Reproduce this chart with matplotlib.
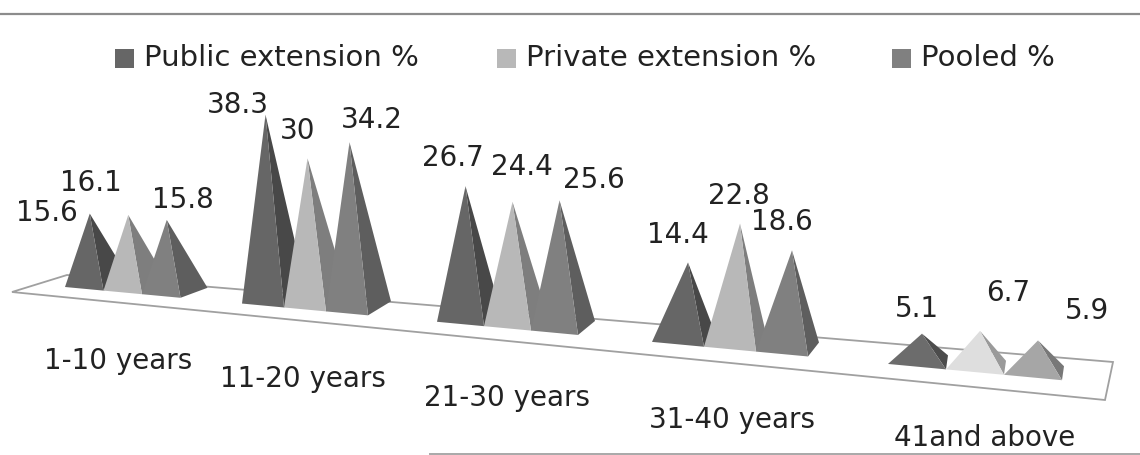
import matplotlib
matplotlib.use("Agg")
import matplotlib.pyplot as plt
from matplotlib.patches import Polygon, Rectangle

categories = ["1-10 years", "11-20 years", "21-30 years", "31-40 years", "41and above"]
public_ext = [15.6, 38.3, 26.7, 14.4, 5.1]
private_ext = [16.1, 30, 24.4, 22.8, 6.7]
pooled = [15.8, 34.2, 25.6, 18.6, 5.9]
series_names = ["Public extension %", "Private extension %", "Pooled %"]

# ----- fake 3D layout, in pixels; things get bigger towards the right
group_left = [65, 242, 437, 652, 888]
pyramid_w = [38.5, 42, 47, 52, 58]
depth_dx = [27, 23, 17, 11, 2]
depth_dy = [-10, -14, -14, -14, -14]
lean = [5.5, 2.5, 5, 10, 5]
unit_h = [4.5, 4.8, 4.9, 5.2, 5.1]

front_cols = ["#666666", "#b8b8b8", "#808080"]
side_cols = ["#484848", "#7e7e7e", "#5e5e5e"]
last_front_cols = ["#6c6c6c", "#dedede", "#a6a6a6"]
last_side_cols = ["#4c4c4c", "#9a9a9a", "#787878"]

# value label offsets from the pyramid tips
label_off = [
    [(-43, -1), (-37, -32), (16, -20)],
    [(-28, -10), (-10, -27), (22, -22)],
    [(-13, -28), (9, -35), (34, -20)],
    [(-10, -27), (-1, -28), (-10, -28)],
    [(-5, -25), (28, -38), (49, -29)],
]
cat_label_xy = [(118, 361), (303, 379), (507, 398), (732, 420), (985, 438)]


def floor_y(x):
    return 287 + 0.0935 * (x - 65)


def draw_pyramid(ax, g, s, value):
    x0 = group_left[g] + s * pyramid_w[g]
    x1 = x0 + pyramid_w[g]
    y0, y1 = floor_y(x0), floor_y(x1)
    back = (x1 + depth_dx[g], y1 + depth_dy[g])
    tip_x = (x0 + x1) / 2 + lean[g]
    tip_y = (y0 + y1) / 2 + depth_dy[g] / 2 - value * unit_h[g]
    front = last_front_cols if g == 4 else front_cols
    side = last_side_cols if g == 4 else side_cols
    ax.add_patch(Polygon([(x1, y1), back, (tip_x, tip_y)], closed=True, fc=side[s], ec="none", zorder=3))
    ax.add_patch(Polygon([(x0, y0), (x1, y1), (tip_x, tip_y)], closed=True, fc=front[s], ec="none", zorder=3))
    return tip_x, tip_y


fig = plt.figure(figsize=(11.4, 4.55), dpi=100)
ax = fig.add_axes([0, 0, 1, 1])
ax.set_xlim(0, 1140)
ax.set_ylim(455, 0)
ax.axis("off")

# ----- chart frame lines
ax.plot([0, 1140], [13.5, 13.5], color="#8c8c8c", lw=1.6, zorder=1)
ax.plot([430, 1140], [453.5, 453.5], color="#a8a8a8", lw=1.4, zorder=1)

# ----- floor
ax.add_patch(Polygon([(12, 292), (67, 275), (1113, 362), (1105, 400)], closed=True,
                     fc="white", ec="#a0a0a0", lw=1.3, zorder=2))

# ----- pyramids and value labels
all_series = [public_ext, private_ext, pooled]
for g in range(len(categories)):
    for s, vals in enumerate(all_series):
        tip_x, tip_y = draw_pyramid(ax, g, s, vals[g])
        dx, dy = label_off[g][s]
        ax.text(tip_x + dx, tip_y + dy, f"{vals[g]:g}", fontsize=20, color="#222222",
                ha="center", va="center", zorder=5)
    ax.text(*cat_label_xy[g], categories[g], fontsize=20, color="#222222",
            ha="center", va="center", zorder=5)

# ----- legend
legend_x = [115, 497, 892]
for x, name, col in zip(legend_x, series_names, front_cols):
    ax.add_patch(Rectangle((x, 49), 19, 19, fc=col, ec="none", zorder=4))
    ax.text(x + 29, 58, name, fontsize=21, color="#222222", ha="left", va="center", zorder=5)

fig.savefig("out.png", dpi=100)
